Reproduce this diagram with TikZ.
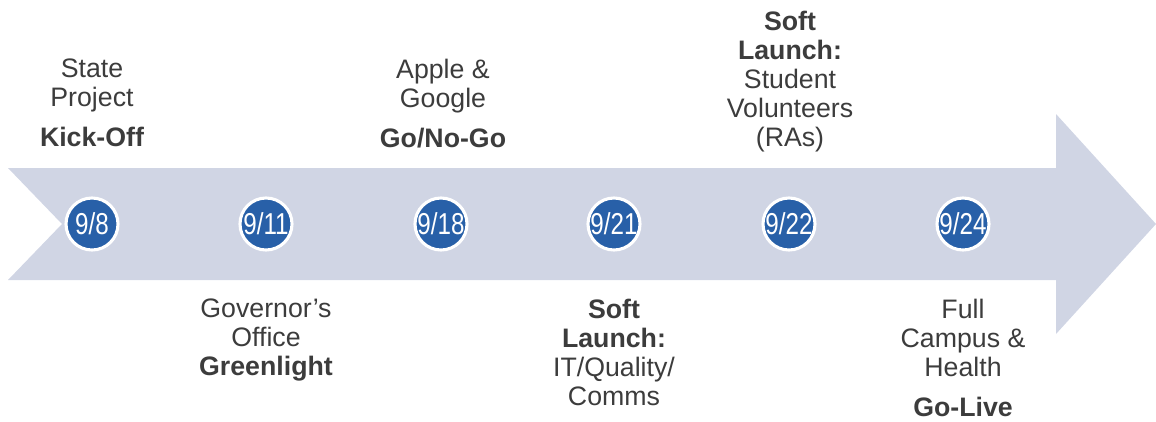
\documentclass[tikz,border=0pt]{standalone}
\usepackage{fontspec}
\setmainfont{Liberation Sans}
\newfontfamily\datefont[FakeStretch=0.8]{Liberation Sans}
\definecolor{arrowgrey}{RGB}{208,213,228}
\definecolor{dateblue}{RGB}{40,96,168}
\definecolor{textgrey}{RGB}{60,60,60}
\tikzset{
	datedot/.style={circle, fill=dateblue, draw=white, line width=2.2pt, minimum size=1.3cm, inner sep=0pt, text=white, font=\datefont\fontsize{21.5}{21.5}\selectfont},
	milestone/.style={anchor=north, align=center, inner sep=0pt, text=textgrey, font=\fontsize{19}{20.6}\selectfont},
}
\begin{document}
\begin{tikzpicture}[x=0.025cm, y=-0.025cm]
		%%%%% START %%%%%
		\useasboundingbox (0, 0) rectangle (1156, 421);
		
		% big arrow
		\fill[arrowgrey] (8, 168) -- (1056, 168) -- (1056, 114) -- (1156, 224) -- (1056, 334) -- (1056, 280) -- (8, 280) -- (62, 224) -- cycle;
		
		% dates
		\node[datedot] (d1) at (92, 224) {9/8};
		\node[datedot] (d2) at (266, 224) {9/11};
		\node[datedot] (d3) at (441, 224) {9/18};
		\node[datedot] (d4) at (614, 224) {9/21};
		\node[datedot] (d5) at (789, 224) {9/22};
		\node[datedot] (d6) at (963, 224) {9/24};
		
		% above the arrow
		\node[milestone] (m1) at (92, 59) {State\\Project\\[7.5pt]\textbf{Kick-Off}};
		\node[milestone] (m3) at (443, 59) {Apple \&\\Google\\[7.5pt]\textbf{Go/No-Go}};
		\node[milestone] (m5) at (790, 11) {\textbf{Soft}\\\textbf{Launch:}\\Student\\Volunteers\\(RAs)};
		
		% below the arrow
		\node[milestone] (m2) at (266, 299) {Governor’s\\Office\\\textbf{Greenlight}};
		\node[milestone] (m4) at (614, 299) {\textbf{Soft}\\\textbf{Launch:}\\IT/Quality/\\Comms};
		\node[milestone] (m6) at (963, 299) {Full\\Campus \&\\Health\\[7.5pt]\textbf{Go-Live}};
		
		%%%%% END %%%%%
	\end{tikzpicture}
\end{document}
